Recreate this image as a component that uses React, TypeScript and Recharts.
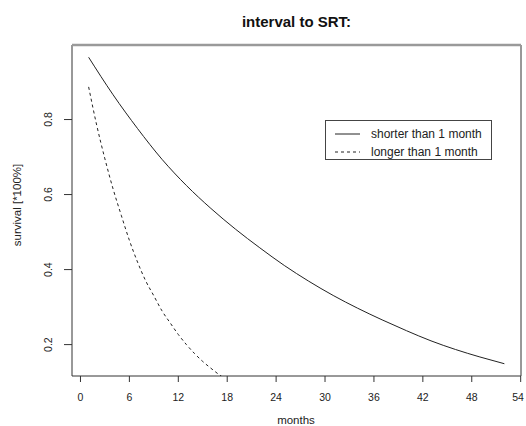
import { LineChart, Line, XAxis, YAxis, ReferenceArea, ReferenceLine } from 'recharts'

// solid curve: interval shorter than 1 month
const SHORT_MONTHS = [1, 4, 7, 10, 13, 16, 19, 22, 25, 28, 31, 34, 37, 40, 43, 46, 49, 52]
const SHORT_SURV = [0.966, 0.866, 0.776, 0.694, 0.624, 0.563, 0.508, 0.458, 0.411, 0.369, 0.331, 0.297, 0.266, 0.237, 0.21, 0.187, 0.167, 0.149]

// dashed curve: interval longer than 1 month
const LONG_MONTHS = [1, 2, 3, 4, 5, 6, 7, 8, 9, 10, 11, 12, 13, 14, 15, 16, 17, 18]
const LONG_SURV = [0.887, 0.784, 0.695, 0.615, 0.545, 0.478, 0.42, 0.37, 0.33, 0.29, 0.258, 0.227, 0.2, 0.176, 0.155, 0.137, 0.12, 0.105]

const X_TICKS = [0, 6, 12, 18, 24, 30, 36, 42, 48, 54]
const Y_TICKS = [0.2, 0.4, 0.6, 0.8]

const X_MIN = -1.04
const X_MAX = 54.04
const Y_MIN = 0.1163
const Y_MAX = 0.9987

const FONT = '"Liberation Sans", Arial, sans-serif'
const INK = '#222'

const shortData = SHORT_MONTHS.map((m, i) => ({ x: m, y: SHORT_SURV[i] }))
const longData = LONG_MONTHS.map((m, i) => ({ x: m, y: LONG_SURV[i] }))

const XTick = ({ x, payload }: any) => (
  <text x={x} y={401} textAnchor="middle" fontSize={10.5} fontFamily={FONT} fill={INK}>
    {payload.value}
  </text>
)

const YTick = ({ y, payload }: any) => (
  <text
    x={48}
    y={y}
    transform={`rotate(-90 48 ${y})`}
    textAnchor="middle"
    dominantBaseline="central"
    fontSize={10.5}
    fontFamily={FONT}
    fill={INK}
  >
    {payload.value.toFixed(1)}
  </text>
)

// legend drawn as an overlay so it doesn't take space from the plot
const LegendBox = () => (
  <svg width={167} height={40} style={{ position: 'absolute', left: 325, top: 120 }}>
    <rect x={0.5} y={0.5} width={166} height={39} fill="#fff" stroke="#444" />
    <line x1={10} x2={35} y1={14} y2={14} stroke={INK} />
    <line x1={10} x2={35} y1={32} y2={32} stroke={INK} strokeDasharray="3 3" />
    <text x={46} y={18} fontSize={12} fontFamily={FONT} fill={INK}>shorter than 1 month</text>
    <text x={46} y={36} fontSize={12} fontFamily={FONT} fill={INK}>longer than 1 month</text>
  </svg>
)

export default function App() {
  return (
    <div style={{ position: 'absolute', left: 0, top: 0, width: 526, height: 426, background: '#fff' }}>
      <div
        style={{
          position: 'absolute',
          left: 0,
          width: 593,
          top: 13,
          textAlign: 'center',
          fontFamily: FONT,
          fontWeight: 'bold',
          fontSize: 15,
          color: '#111',
        }}
      >
        interval to SRT:
      </div>
      <LineChart width={526} height={426} margin={{ top: 45, right: 5, bottom: 0, left: 0 }}>
        <XAxis
          dataKey="x"
          type="number"
          domain={[X_MIN, X_MAX]}
          ticks={X_TICKS}
          allowDataOverflow
          axisLine={false}
          tickLine={{ stroke: '#333' }}
          tickSize={6}
          tick={<XTick />}
          height={50}
          label={{
            content: () => (
              <text x={296} y={424} textAnchor="middle" fontSize={11.5} fontFamily={FONT} fill={INK}>
                months
              </text>
            ),
          }}
        />
        <YAxis
          dataKey="y"
          type="number"
          domain={[Y_MIN, Y_MAX]}
          ticks={Y_TICKS}
          allowDataOverflow
          axisLine={false}
          tickLine={{ stroke: '#333' }}
          tickSize={8}
          tick={<YTick />}
          width={72}
          label={{
            content: () => (
              <text
                x={17}
                y={205}
                transform="rotate(-90 17 205)"
                textAnchor="middle"
                dominantBaseline="central"
                fontSize={11.5}
                fontFamily={FONT}
                fill={INK}
              >
                survival [*100%]
              </text>
            ),
          }}
        />
        <ReferenceArea
          x1={X_MIN}
          x2={X_MAX}
          y1={Y_MIN}
          y2={Y_MAX}
          fill="none"
          stroke="#333"
          strokeWidth={1}
          ifOverflow="visible"
        />
        <ReferenceLine y={Y_MAX} stroke="#9a9a9a" strokeWidth={2.5} ifOverflow="visible" />
        <Line
          data={shortData}
          dataKey="y"
          type="monotone"
          stroke={INK}
          strokeWidth={1}
          dot={false}
          isAnimationActive={false}
        />
        <Line
          data={longData}
          dataKey="y"
          type="monotone"
          stroke={INK}
          strokeWidth={1}
          strokeDasharray="3 3"
          dot={false}
          isAnimationActive={false}
        />
      </LineChart>
      <LegendBox />
    </div>
  )
}
